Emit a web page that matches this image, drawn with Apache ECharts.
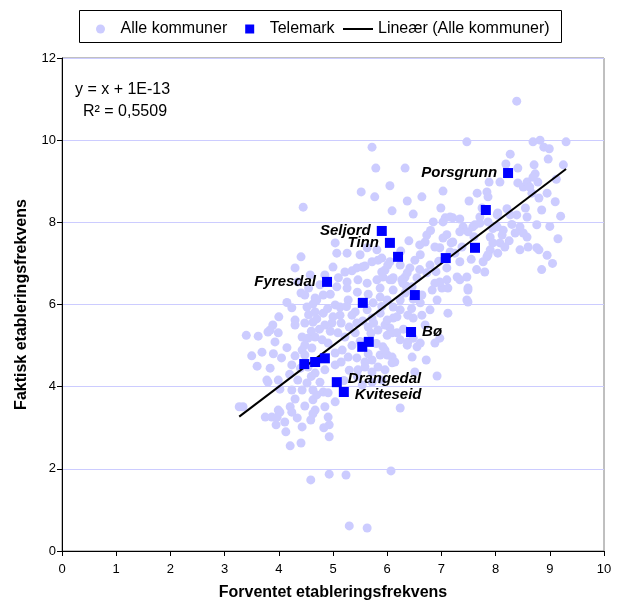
<!DOCTYPE html>
<html><head><meta charset="utf-8">
<script src="https://cdn.jsdelivr.net/npm/echarts@6/dist/echarts.min.js"></script>
<style>html,body{margin:0;padding:0;background:#fff}#c{width:625px;height:603px}</style>
</head><body><div id="c"></div>
<script>
// Alle kommuner: [forventet, faktisk]
const alleKommuner = [
[8.39,10.95],[7.47,9.96],[8.69,9.96],[8.82,10.0],[8.89,9.83],[8.99,9.79],[9.30,9.96],[8.27,9.66],[8.97,9.54],[8.19,9.42],[8.41,9.32],[8.71,9.40],[8.73,9.18],[7.88,8.98],[8.08,8.98],[8.41,8.96],[8.51,8.86],[8.58,8.98],[8.63,8.86],[8.78,8.98],[7.03,8.76],[7.66,8.71],[7.84,8.74],[8.95,8.71],[5.72,9.83],[5.79,9.32],[6.33,9.32],[5.52,8.74],[5.77,8.62],[6.05,8.89],[4.45,8.37],[6.09,8.28],[6.37,8.52],[6.64,8.62],[6.99,8.35],[6.48,8.20],[7.51,8.52],
[8.69,9.10],[8.67,8.71],[8.80,8.59],[7.86,8.62],
[6.85,8.01],[7.07,8.11],[7.21,8.11],[7.34,8.08],[7.58,7.89],[7.86,8.01],[8.03,8.18],[8.21,8.33],[8.39,8.18],[8.58,8.13],[8.45,7.89],[8.76,7.94],[8.58,7.64],[8.36,7.74],[8.14,7.81],[8.08,7.50],[7.90,7.64],[8.04,7.25],[7.84,7.16],[8.45,7.33],[8.76,7.38],
[7.71,8.13],[8.04,8.23],[8.27,8.18],[8.51,7.74],[7.16,8.13],[7.03,8.01],[7.40,7.89],[7.49,7.77],[7.62,7.94],[7.71,7.98],[8.03,7.89],[8.12,7.69],[8.17,7.40],[7.95,7.50],[7.90,7.33],[7.86,7.21],[7.77,7.04],[7.80,6.79],[8.80,7.33],[7.34,7.77],[7.21,7.52],[7.18,7.50],[7.03,7.62],[6.97,7.38],[6.88,7.40],[6.73,7.69],[6.70,7.52],[6.61,7.21],[6.51,7.08],[6.42,6.89],[6.33,6.67],[6.27,6.60],[6.05,6.60],[5.96,6.84],[6.01,6.96],[6.79,6.96],[6.73,6.77],[6.88,6.52],[6.83,6.35],[6.64,6.23],[7.01,6.40],[7.10,6.60],[7.29,6.67],[7.34,7.04],[7.47,6.67],[7.49,6.35],[7.47,6.11],[7.34,6.60],[6.46,6.43],[6.33,6.28],[6.48,6.13],[6.92,6.11],[7.10,6.89],[7.16,7.28],[7.38,7.40],
[9.10,8.50],[9.20,8.15],[9.00,7.90],[9.15,7.60],[8.95,7.20],[9.05,7.00],[8.85,6.85],[9.25,9.40],[9.12,9.05],
[6.61,6.04],[6.79,5.87],[7.12,5.79],[6.64,5.74],[6.48,5.67],[6.38,5.74],[6.24,5.87],[6.11,5.67],[6.05,5.43],[6.18,5.31],[6.24,5.14],[6.37,5.01],[6.55,4.97],[6.61,5.06],[6.88,5.06],[6.46,4.72],[6.72,4.65],[6.14,4.60],[6.00,4.77],[5.92,4.97],[5.96,4.41],[6.51,4.36],[6.92,4.26],[6.24,3.48],[7.49,6.06],
[6.70,5.50],[6.97,5.18],[6.48,5.18],[6.38,5.09],[7.49,6.40],[7.12,6.40],[6.97,6.55],
[4.24,5.92],[4.52,5.94],[4.63,6.01],[4.67,5.82],[4.82,5.79],[5.04,5.99],[5.13,5.74],[4.30,5.50],[4.48,5.55],[4.63,5.57],[4.85,5.50],[4.98,5.55],[3.62,5.23],[3.89,5.50],[3.80,5.33],[3.99,5.31],[3.93,5.09],[4.43,5.21],[4.54,5.18],[4.67,5.21],[4.80,5.14],[4.91,5.06],[4.48,5.01],[4.43,4.89],[4.61,4.94],[5.09,5.31],[5.22,5.21],[5.35,5.74],[5.44,5.55],[5.41,5.31],[5.65,5.45],[5.83,5.38],[5.96,5.50],[6.09,5.31],[3.69,4.84],[4.48,4.77],[5.04,4.82],[5.17,4.89],[5.28,4.72],[5.44,4.70],[5.59,4.60],[5.72,4.65],[5.87,4.77],[5.96,4.89],[6.09,4.72],[3.84,4.45],[3.78,4.16],[3.99,4.16],[4.24,4.53],[4.54,4.48],[4.67,4.33],[4.85,4.41],[5.04,4.53],[4.35,4.16],[4.52,4.09],[4.76,4.11],[4.02,3.94],[4.24,3.92],[4.43,3.92],[4.63,3.92],[4.82,3.87],[4.91,3.85],[5.46,4.41],[5.59,4.48],[5.72,4.36],[5.83,4.48],[6.09,4.58],[5.54,4.04],[5.72,4.11],[5.90,4.16],[3.27,3.51],[3.34,3.51],[3.75,3.26],[3.99,3.43],[4.21,3.51],[4.48,3.53],[4.63,3.68],[4.67,3.43],[4.85,3.51],[5.04,3.63],[4.91,3.26],[4.34,3.24],[4.11,3.14],
[3.87,3.26],[3.97,3.26],[3.95,3.07],[4.02,3.38],[4.13,2.90],[4.24,3.38],[4.43,3.02],[4.21,2.56],[4.41,2.63],[4.59,3.19],[4.63,3.34],[4.93,3.07],[4.83,3.00],[4.93,2.78],[4.59,1.73],[4.93,1.87],[5.24,1.85],[6.07,1.95],[5.30,0.61],[5.63,0.56],
[4.41,7.16],[4.30,6.89],[5.00,6.91],[5.07,7.25],[5.22,6.79],[5.35,6.82],[5.44,6.89],[5.54,6.91],[5.59,6.94],[5.72,7.04],[5.83,7.08],[5.90,6.79],[6.09,6.60],[5.46,6.60],[5.26,6.40],[5.07,6.43],[4.82,6.23],[4.67,6.16],[4.48,6.23],[4.41,6.28],[5.04,7.50],
[3.84,5.38],[3.80,4.11],[4.30,5.62],[4.70,6.11],[3.40,5.25],[3.50,4.75],
[5.26,6.55],[5.63,6.52],[5.81,6.60],[5.92,6.67],[6.11,6.65],[5.87,6.40],[6.11,6.35],[6.29,6.52],[6.37,6.77],[6.24,6.96],[6.05,7.04],[5.90,7.13],[5.81,7.33],[5.63,7.38],[5.50,7.21],[5.26,7.25],
[5.13,5.94],[5.28,6.11],[5.41,5.82],[5.63,5.87],[5.74,6.04],[5.87,6.18],[6.00,6.11],[6.11,5.94],[5.87,5.79],[5.72,5.67],[6.00,5.62],[6.18,5.70],[6.24,6.11],
[4.76,6.48],[4.58,6.72],[4.85,6.72],
[4.55,5.75],[4.70,5.65],[4.90,5.90],[5.00,5.70],[4.75,5.40],[4.60,5.35],[4.95,5.35],[5.15,5.55],[5.25,5.95],[5.55,5.60],[5.30,5.45],[5.70,5.30],[5.50,5.10],[5.35,5.00],[5.15,4.60],[5.30,4.40],[5.45,4.25],[5.65,4.80],[5.80,5.05],[6.00,5.25],[5.75,5.55],[5.90,5.95],[6.30,5.40],[6.45,5.90],[6.35,6.45],[6.55,6.65],[6.60,6.85],[6.90,6.80],[6.95,7.05],[6.60,7.45],[6.25,7.30],[6.40,7.55],[6.80,7.80],[7.10,7.70],[7.25,7.25],[7.55,7.10],[7.65,6.85],[7.60,7.65],[7.95,7.85],[8.30,7.95],[8.25,7.55],[8.55,8.35],[8.85,8.30],[8.60,7.40],[7.75,8.35],
[4.05,4.70],[4.15,4.95],[4.20,4.30],[4.40,4.45],[4.30,4.75],[4.00,5.70],[4.15,6.05],[4.35,6.55],[4.55,6.40],[4.95,6.25],[5.10,6.65],[5.65,6.25],[5.45,6.30],[4.70,3.80],[4.30,3.70],[5.20,4.15],[4.60,4.25],[3.60,4.50],[3.90,4.80]
];

// Telemark
const telemarkX = [8.23, 7.82, 5.90, 6.05, 6.20, 7.62, 7.08, 4.89, 5.55, 6.51, 6.44, 5.66, 5.54, 4.47, 4.67, 4.85, 5.07, 5.20];
const telemarkY = [9.20, 8.30, 7.79, 7.50, 7.16, 7.38, 7.13, 6.55, 6.04, 6.23, 5.33, 5.09, 4.97, 4.55, 4.60, 4.69, 4.11, 3.87];
const telemarkNavn = ['Porsgrunn', '', 'Seljord', 'Tinn', '', '', '', 'Fyresdal', '', '', 'Bø', '', '', '', '', '', 'Drangedal', 'Kviteseid'];

// Trendlinje: y = x + 1E-13
const trendSlope = 1;
const trendIntercept = 1e-13;
const equationText = ['y = x + 1E-13', 'R\u00B2 = 0,5509'];

const xRange = [0, 10];
const yRange = [0, 12];

const font = "'Liberation Sans', Arial, Helvetica, sans-serif";
const rightLabels = { 'Bø': [0, 0], 'Drangedal': [0, -3], 'Kviteseid': [0, 3] };

const xs = alleKommuner.map(p => p[0]);
const xMin = Math.min.apply(null, xs), xMax = Math.max.apply(null, xs);
const trendData = [[xMin, trendSlope * xMin + trendIntercept], [xMax, trendSlope * xMax + trendIntercept]];

const telemarkData = telemarkX.map((x, i) => {
  const name = telemarkNavn[i];
  const right = name in rightLabels;
  return {
    value: [x, telemarkY[i]],
    name: name,
    label: {
      show: !!name,
      position: right ? 'right' : 'left',
      distance: 6,
      offset: right ? rightLabels[name] : [0, 0]
    }
  };
});

const legendText = { fontSize: 16, color: '#000', fontFamily: font };

const chart = echarts.init(document.getElementById('c'), null, { renderer: 'canvas' });
chart.setOption({
  animation: false,
  textStyle: { fontFamily: font },
  grid: { left: 62, right: 21, top: 58, bottom: 52, show: true, borderColor: '#808080', borderWidth: 1,
          containLabel: false, outerBoundsMode: 'none' },
  legend: [
    {
      left: 79, top: 12, padding: [9, 0, 7, 17],
      itemWidth: 30, itemHeight: 9, itemGap: 18, symbolKeepAspect: true,
      textStyle: legendText,
      data: [
        { name: 'Alle kommuner', icon: 'circle' },
        { name: 'Telemark', icon: 'path://M0,0L10,0L10,10L0,10Z' }
      ]
    },
    {
      left: 343, top: 21, padding: 0,
      itemWidth: 30, itemHeight: 9, symbolKeepAspect: true,
      textStyle: legendText,
      data: [ { name: 'Lineær (Alle kommuner)', icon: 'path://M0,0L30,0L30,2L0,2Z' } ]
    }
  ],
  xAxis: {
    type: 'value', min: xRange[0], max: xRange[1], interval: 1,
    axisLine: { onZero: false, lineStyle: { color: '#000', width: 1 } },
    axisTick: { show: true, length: 5, lineStyle: { color: '#000' } },
    splitLine: { show: false },
    axisLabel: { fontSize: 13, color: '#000', margin: 12, fontFamily: font },
    name: 'Forventet etableringsfrekvens', nameLocation: 'middle', nameGap: 34,
    nameTextStyle: { fontSize: 16, fontWeight: 'bold', color: '#000', fontFamily: font }
  },
  yAxis: {
    type: 'value', min: yRange[0], max: yRange[1], interval: 2,
    axisLine: { show: true, onZero: false, lineStyle: { color: '#000', width: 1 } },
    axisTick: { show: true, length: 5, lineStyle: { color: '#000' } },
    splitLine: { show: true, lineStyle: { color: '#ccccff', width: 1 } },
    axisLabel: { fontSize: 13, color: '#000', margin: 6, fontFamily: font },
    name: 'Faktisk etableringsfrekvens', nameLocation: 'middle', nameGap: 32, nameRotate: 90,
    nameTextStyle: { fontSize: 16, fontWeight: 'bold', color: '#000', fontFamily: font }
  },
  series: [
    { name: 'Alle kommuner', type: 'scatter', data: alleKommuner, symbol: 'circle', symbolSize: 9,
      itemStyle: { color: '#ccccff', opacity: 1 }, z: 1, emphasis: { disabled: true } },
    { name: 'Lineær (Alle kommuner)', type: 'line', data: trendData, symbol: 'none',
      lineStyle: { color: '#000', width: 2 }, itemStyle: { color: '#000' }, z: 2 },
    { name: 'Telemark', type: 'scatter', data: telemarkData, symbol: 'rect', symbolSize: 10,
      itemStyle: { color: '#0000ff', opacity: 1 }, z: 3,
      label: { show: true, formatter: '{b}', fontSize: 15, fontWeight: 'bold', fontStyle: 'italic', color: '#000', fontFamily: font } }
  ],
  graphic: [
    { type: 'rect', shape: { x: 79.5, y: 10.5, width: 482, height: 32 },
      style: { fill: 'none', stroke: '#000', lineWidth: 1 }, silent: true },
    { type: 'text', left: 75, top: 82, style: { text: equationText[0], fontSize: 16, fill: '#000', fontFamily: font } },
    { type: 'text', left: 83, top: 104, style: { text: equationText[1], fontSize: 16, fill: '#000', fontFamily: font } }
  ]
});
</script>
</body></html>
